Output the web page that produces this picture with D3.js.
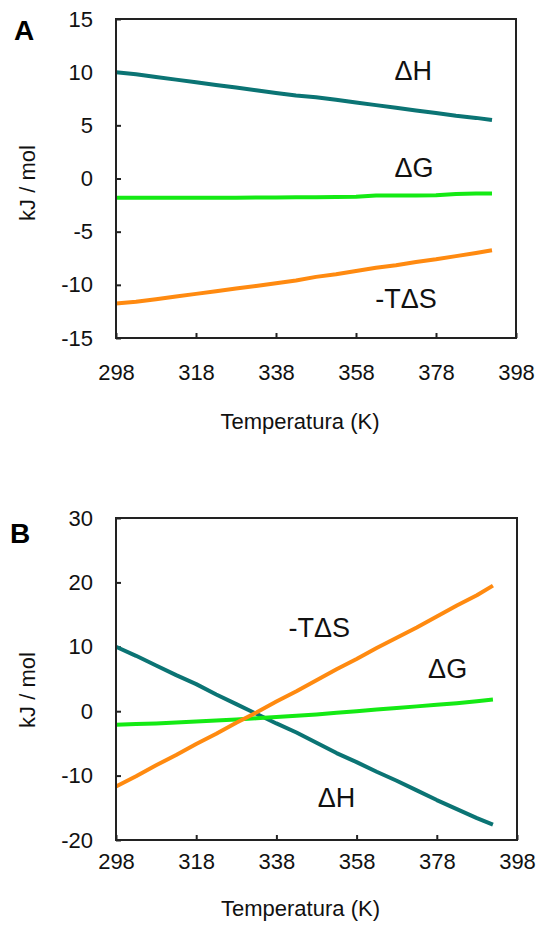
<!DOCTYPE html>
<html>
<head>
<meta charset="utf-8">
<script src="https://cdn.jsdelivr.net/npm/d3@7"></script>
<style>
  body { margin: 0; background: #fff; }
  svg { display: block; font-family: "Liberation Sans", Arial, sans-serif; }
  .tick line { stroke: #222; stroke-width: 2; }
  .tick text { fill: #111; font-size: 22px; }
  .series { fill: none; stroke-width: 4; stroke-linejoin: round; }
</style>
</head>
<body>
<div class="container"></div>
<script>
const WIDTH = 539;
const HEIGHT = 936;

// temperatures (K) sampled along the curves
const temps = [298, 303, 308, 313, 318, 323, 328, 333, 338, 343, 348, 353, 358, 363, 368, 373, 378, 383, 388, 392];

// panel A (kJ/mol)
const dHA = [10.0, 9.8, 9.55, 9.3, 9.05, 8.8, 8.55, 8.3, 8.05, 7.8, 7.65, 7.4, 7.15, 6.9, 6.65, 6.4, 6.15, 5.9, 5.7, 5.5];
const dGA = [-1.8, -1.8, -1.8, -1.8, -1.8, -1.8, -1.8, -1.78, -1.78, -1.76, -1.76, -1.75, -1.72, -1.6, -1.6, -1.6, -1.58, -1.45, -1.4, -1.4];
const tdSA = [-11.75, -11.6, -11.35, -11.1, -10.85, -10.6, -10.35, -10.1, -9.85, -9.6, -9.25, -9.0, -8.7, -8.4, -8.15, -7.85, -7.6, -7.3, -7.0, -6.75];

// panel B (kJ/mol)
const dHB = [10.0, 8.6, 7.1, 5.6, 4.2, 2.6, 1.1, -0.4, -1.9, -3.3, -4.9, -6.5, -7.9, -9.4, -10.8, -12.3, -13.8, -15.2, -16.6, -17.6];
const dGB = [-2.1, -2.0, -1.9, -1.75, -1.6, -1.45, -1.3, -1.1, -0.9, -0.7, -0.5, -0.25, 0.0, 0.25, 0.5, 0.75, 1.0, 1.25, 1.55, 1.8];
const tdSB = [-11.7, -10.1, -8.4, -6.8, -5.1, -3.5, -1.8, -0.2, 1.5, 3.1, 4.8, 6.5, 8.1, 9.8, 11.4, 13.0, 14.7, 16.4, 18.0, 19.5];

const xTicks = [298, 318, 338, 358, 378, 398];
const yTicksA = [-15, -10, -5, 0, 5, 10, 15];
const yTicksB = [-20, -10, 0, 10, 20, 30];

// curve labels: [text, T, value]
const labelsA = [['\u0394H', 372.3, 9.26], ['\u0394G', 372.5, 0.14], ['-T\u0394S', 370.5, -12.19]];
const labelsB = [['-T\u0394S', 348.7, 11.5], ['\u0394G', 380.7, 5.2], ['\u0394H', 353, -14.9]];

const COLORS = { dH: '#0b7474', dG: '#14ea14', tdS: '#ff8a10' };

var svg = d3.select('.container').append('svg')
  .attr('width', WIDTH)
  .attr('height', HEIGHT);

// plain hyphen for negatives, like the original
function fmt(d) { return String(d); }

function drawPanel(opt) {
  var x = d3.scaleLinear().domain([298, 398]).range([opt.left, opt.right]);
  var y = d3.scaleLinear().domain(opt.yDomain).range([opt.bottom, opt.top]);
  var g = svg.append('g');

  var xAxis = d3.axisBottom(x).tickValues(xTicks).tickFormat(fmt)
    .tickSizeInner(-5).tickSizeOuter(0).tickPadding(opt.xPad);
  var yAxis = d3.axisLeft(y).tickValues(opt.yTicks).tickFormat(fmt)
    .tickSizeInner(-5).tickSizeOuter(0).tickPadding(23);

  g.append('g').attr('transform', 'translate(0,' + opt.bottom + ')').call(xAxis)
    .call(function (a) { a.select('.domain').remove(); });
  g.append('g').attr('transform', 'translate(' + opt.left + ',0)').call(yAxis)
    .call(function (a) { a.select('.domain').remove(); });

  g.selectAll('.tick text').style('font-family', '"Liberation Sans", Arial, sans-serif');

  var series = [
    { v: opt.dH, c: COLORS.dH },
    { v: opt.dG, c: COLORS.dG },
    { v: opt.tdS, c: COLORS.tdS }
  ];
  var line = d3.line()
    .x(function (d, i) { return x(temps[i]); })
    .y(function (d) { return y(d); });

  g.selectAll('path.series').data(series).enter().append('path')
    .attr('class', 'series')
    .attr('stroke', function (d) { return d.c; })
    .attr('d', function (d) { return line(d.v); });

  g.append('rect')
    .attr('x', opt.left).attr('y', opt.top)
    .attr('width', opt.right - opt.left).attr('height', opt.bottom - opt.top)
    .attr('fill', 'none').attr('stroke', '#222').attr('stroke-width', 2);

  g.selectAll('text.curve').data(opt.labels).enter().append('text')
    .attr('class', 'curve')
    .attr('x', function (d) { return x(d[1]); })
    .attr('y', function (d) { return y(d[2]); })
    .attr('text-anchor', 'middle')
    .attr('font-size', 27)
    .attr('fill', '#111')
    .text(function (d) { return d[0]; });

  // axis titles
  g.append('text')
    .attr('x', (opt.left + opt.right) / 2 - 16)
    .attr('y', opt.titleY)
    .attr('text-anchor', 'middle')
    .attr('font-size', 22)
    .attr('fill', '#111')
    .text('Temperatura (K)');

  g.append('text')
    .attr('transform', 'translate(35,' + opt.yTitleY + ') rotate(-90)')
    .attr('text-anchor', 'middle')
    .attr('font-size', 22)
    .attr('fill', '#111')
    .text('kJ / mol');

  g.append('text')
    .attr('x', opt.letterX).attr('y', opt.letterY)
    .attr('font-size', 28)
    .attr('font-weight', 'bold')
    .attr('fill', '#000')
    .text(opt.letter);
}

drawPanel({
  left: 116, right: 516, top: 19, bottom: 338,
  yDomain: [-15, 15], yTicks: yTicksA,
  dH: dHA, dG: dGA, tdS: tdSA, labels: labelsA,
  xPad: 26, titleY: 429, yTitleY: 183,
  letter: 'A', letterX: 14, letterY: 40
});

drawPanel({
  left: 116, right: 517, top: 518, bottom: 840,
  yDomain: [-20, 30], yTicks: yTicksB,
  dH: dHB, dG: dGB, tdS: tdSB, labels: labelsB,
  xPad: 13, titleY: 916, yTitleY: 690,
  letter: 'B', letterX: 10, letterY: 543
});
</script>
</body>
</html>
